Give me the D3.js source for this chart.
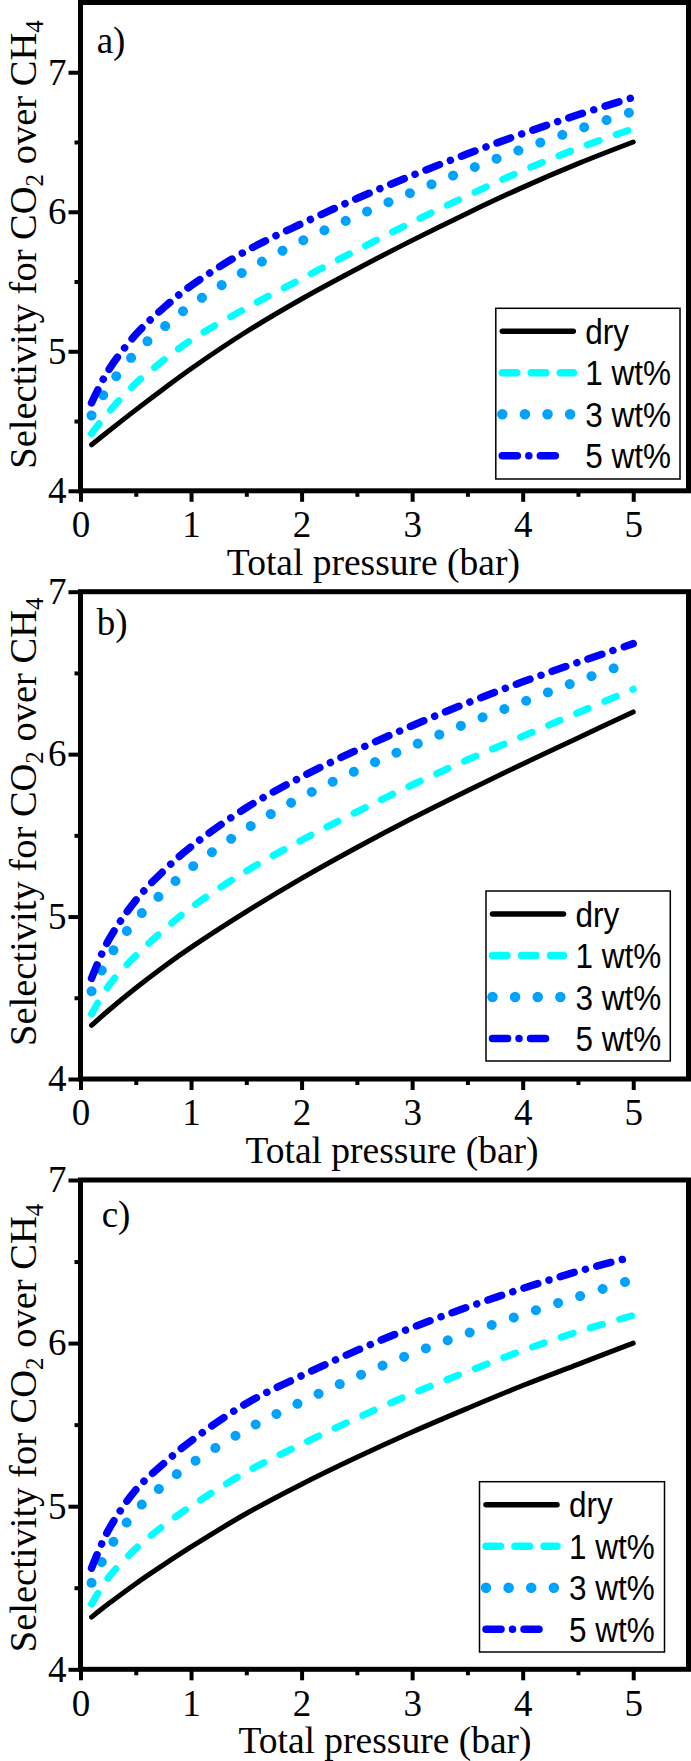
<!DOCTYPE html>
<html>
<head>
<meta charset="utf-8">
<script src="https://cdn.jsdelivr.net/npm/d3@7"></script>
<style>
  html, body { margin: 0; padding: 0; background: #fff; }
  svg { display: block; }
</style>
</head>
<body>
<script>
// ---------------- DATA ----------------
const pressure = [0.1, 0.25, 0.5, 0.75, 1, 1.5, 2, 2.5, 3, 3.5, 4, 4.5, 5];
const seriesNames = ["dry", "1 wt%", "3 wt%", "5 wt%"];
const panelLabels = ["a)", "b)", "c)"];
const xTickValues = [0, 1, 2, 3, 4, 5];
const xMinorValues = [0.5, 1.5, 2.5, 3.5, 4.5];
const yTickValues = [4, 5, 6, 7];
const yMinorValues = [4.5, 5.5, 6.5];
const xDomain = [0, 5.5];
const yDomainA = [4, 7.5];
const yDomainB = [4, 7];
const yDomainC = [4, 7];

// panel a
const dryA = [4.33, 4.425, 4.58, 4.73, 4.875, 5.14, 5.375, 5.59, 5.795, 5.99, 6.175, 6.345, 6.50];
const wt1A = [4.41, 4.56, 4.77, 4.935, 5.08, 5.31, 5.52, 5.725, 5.925, 6.115, 6.295, 6.455, 6.595];
const wt3A = [4.54, 4.74, 4.99, 5.17, 5.33, 5.58, 5.79, 5.97, 6.14, 6.30, 6.45, 6.59, 6.72];
const wt5A = [4.63, 4.86, 5.12, 5.31, 5.47, 5.72, 5.915, 6.095, 6.26, 6.415, 6.56, 6.695, 6.82];
// panel b
const dryB = [4.33, 4.42, 4.56, 4.69, 4.81, 5.03, 5.235, 5.425, 5.605, 5.775, 5.94, 6.10, 6.26];
const wt1B = [4.40, 4.57, 4.76, 4.915, 5.055, 5.28, 5.47, 5.645, 5.81, 5.965, 6.11, 6.255, 6.40];
const wt3B = [4.54, 4.74, 4.98, 5.15, 5.30, 5.54, 5.735, 5.90, 6.05, 6.19, 6.32, 6.45, 6.57];
const wt5B = [4.62, 4.85, 5.10, 5.28, 5.43, 5.67, 5.86, 6.025, 6.175, 6.315, 6.445, 6.565, 6.68];
// panel c
const dryC = [4.32, 4.40, 4.525, 4.64, 4.75, 4.955, 5.135, 5.30, 5.455, 5.60, 5.74, 5.87, 6.00];
const wt1C = [4.40, 4.56, 4.74, 4.88, 5.00, 5.21, 5.38, 5.54, 5.69, 5.825, 5.955, 6.07, 6.17];
const wt3C = [4.53, 4.73, 4.97, 5.13, 5.26, 5.47, 5.64, 5.795, 5.935, 6.06, 6.175, 6.285, 6.39];
const wt5C = [4.62, 4.85, 5.10, 5.26, 5.40, 5.63, 5.80, 5.955, 6.095, 6.22, 6.335, 6.44, 6.53];

// ---------------- LAYOUT / STYLE ----------------
const W = 691, H = 1761;
const serif = "'Liberation Serif', 'Times New Roman', serif";
const sans = "'Liberation Sans', Arial, sans-serif";

const panels = [
  { series: [dryA, wt1A, wt3A, wt5A], yDomain: yDomainA, top: 2.5, bottom: 490.8,
    label: { x: 96.7, y: 53 }, titleX: 373.4, ylabCy: 244.5,
    legend: { x: 495.8, y: 308.3, w: 184.2, h: 170.7 } },
  { series: [dryB, wt1B, wt3B, wt5B], yDomain: yDomainB, top: 591.7, bottom: 1079,
    label: { x: 96.7, y: 635 }, titleX: 392, ylabCy: 821.7,
    legend: { x: 486, y: 891, w: 184.3, h: 170 } },
  { series: [dryC, wt1C, wt3C, wt5C], yDomain: yDomainC, top: 1180, bottom: 1669.3,
    label: { x: 101.7, y: 1226.7 }, titleX: 385, ylabCy: 1428,
    legend: { x: 479.5, y: 1481.7, w: 185, h: 170.3 } }
];

const lineStyles = [
  { color: "#000000", width: 5,    dash: null,                     legendWidth: 5.5, legendDash: null },
  { color: "#00FFFF", width: 7,    dash: "12.5,18",                legendWidth: 7.5, legendDash: "14.5,14.5" },
  { color: "#00A2FF", width: 10,   dash: "0.01,23.3",              legendWidth: 10.5, legendDash: "0.01,22.6" },
  { color: "#0000FF", width: 7.5,  dash: "14.5,11.75,0.01,11.75",  legendWidth: 7.5, legendDash: "15,11.5,0.01,11.5" }
];

const plotLeft = 80.5, plotRight = 688.5;

const svg = d3.select("body").append("svg")
  .attr("width", W).attr("height", H)
  .attr("viewBox", `0 0 ${W} ${H}`);

const x = d3.scaleLinear().domain(xDomain).range([plotLeft, plotRight]);

panels.forEach((p, pi) => {
  const y = d3.scaleLinear().domain(p.yDomain).range([p.bottom, p.top]);
  const g = svg.append("g");

  // curves
  const line = d3.line()
    .x(d => x(d[0]))
    .y(d => y(d[1]))
    .curve(d3.curveCatmullRom.alpha(0.5));

  p.series.forEach((vals, si) => {
    const st = lineStyles[si];
    const pts = pressure.map((pv, i) => [pv, vals[i]]);
    g.append("path")
      .datum(pts)
      .attr("d", line)
      .attr("fill", "none")
      .attr("stroke", st.color)
      .attr("stroke-width", st.width)
      .attr("stroke-linecap", "round")
      .attr("stroke-linejoin", "round")
      .attr("stroke-dasharray", st.dash);
  });

  // minor ticks
  g.append("g")
    .attr("transform", `translate(${plotLeft},0)`)
    .call(d3.axisLeft(y).tickValues(yMinorValues).tickSize(6).tickFormat(""))
    .call(a => a.select(".domain").remove())
    .call(a => a.selectAll("line").attr("stroke", "#000").attr("stroke-width", 4));
  g.append("g")
    .attr("transform", `translate(0,${p.bottom})`)
    .call(d3.axisBottom(x).tickValues(xMinorValues).tickSize(6).tickFormat(""))
    .call(a => a.select(".domain").remove())
    .call(a => a.selectAll("line").attr("stroke", "#000").attr("stroke-width", 4));

  // major ticks + labels
  g.append("g")
    .attr("transform", `translate(${plotLeft},0)`)
    .call(d3.axisLeft(y).tickValues(yTickValues).tickSize(12).tickPadding(2).tickFormat(d3.format("d")))
    .call(a => a.select(".domain").remove())
    .call(a => a.selectAll("line").attr("stroke", "#000").attr("stroke-width", 4))
    .call(a => a.selectAll("text")
      .attr("fill", "#000")
      .style("font-family", serif)
      .style("font-size", "37px"));

  g.append("g")
    .attr("transform", `translate(0,${p.bottom})`)
    .call(d3.axisBottom(x).tickValues(xTickValues).tickSize(11).tickPadding(9).tickFormat(d3.format("d")))
    .call(a => a.select(".domain").remove())
    .call(a => a.selectAll("line").attr("stroke", "#000").attr("stroke-width", 4))
    .call(a => a.selectAll("text")
      .attr("fill", "#000")
      .style("font-family", serif)
      .style("font-size", "37px"));

  // frame
  g.append("rect")
    .attr("x", plotLeft).attr("y", p.top)
    .attr("width", plotRight - plotLeft).attr("height", p.bottom - p.top)
    .attr("fill", "none").attr("stroke", "#000").attr("stroke-width", 5);

  // panel label
  g.append("text")
    .attr("x", p.label.x).attr("y", p.label.y)
    .style("font-family", serif).style("font-size", "37px")
    .attr("fill", "#000")
    .text(panelLabels[pi]);

  // x title
  g.append("text")
    .attr("x", p.titleX).attr("y", p.bottom + 84)
    .attr("text-anchor", "middle")
    .style("font-family", serif).style("font-size", "37.5px")
    .attr("fill", "#000")
    .text("Total pressure (bar)");

  // y title
  const yt = g.append("text")
    .attr("transform", `translate(36,${p.ylabCy}) rotate(-90)`)
    .attr("text-anchor", "middle")
    .style("font-family", serif).style("font-size", "38.5px")
    .attr("fill", "#000");
  yt.append("tspan").text("Selectivity for CO");
  yt.append("tspan").attr("dy", 7).style("font-size", "25px").text("2");
  yt.append("tspan").attr("dy", -7).text(" over CH");
  yt.append("tspan").attr("dy", 7).style("font-size", "25px").text("4");

  // legend
  const L = p.legend;
  const lg = g.append("g");
  lg.append("rect")
    .attr("x", L.x).attr("y", L.y).attr("width", L.w).attr("height", L.h)
    .attr("fill", "#fff").attr("stroke", "#000").attr("stroke-width", 1.5);
  seriesNames.forEach((name, si) => {
    const st = lineStyles[si];
    const ey = L.y + 23 + si * 41.5;
    const x1 = L.x + 6.5, x2 = si === 3 ? L.x + 70 : L.x + 77.5;
    lg.append("path")
      .attr("d", d3.line()([[x1, ey], [x2, ey]]))
      .attr("fill", "none")
      .attr("stroke", st.color)
      .attr("stroke-width", st.legendWidth)
      .attr("stroke-linecap", "round")
      .attr("stroke-dasharray", st.legendDash);
    lg.append("text")
      .attr("transform", `translate(${L.x + 89.5},${ey + 12.5}) scale(0.9,1)`)
      .style("font-family", sans).style("font-size", "35px")
      .attr("fill", "#000")
      .text(name);
  });
});
</script>
</body>
</html>
